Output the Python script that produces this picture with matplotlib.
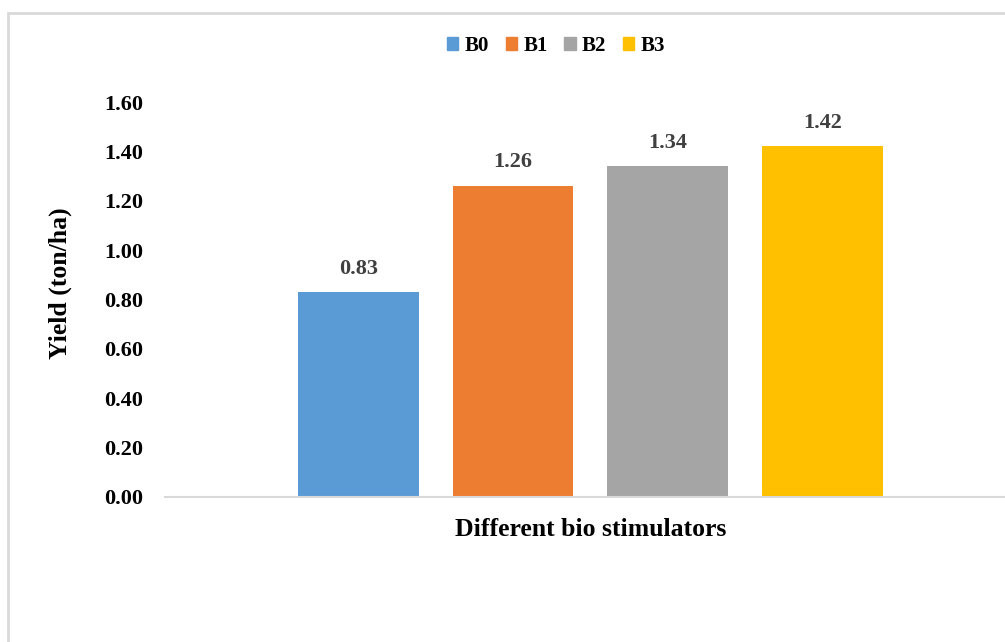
import matplotlib.pyplot as plt
from matplotlib.patches import Rectangle, Patch

# yield per bio stimulator treatment
treatments = ['B0', 'B1', 'B2', 'B3']
yields = [0.83, 1.26, 1.34, 1.42]
colors = ['#5B9BD5', '#ED7D31', '#A5A5A5', '#FFC000']
yticks = [0.0, 0.2, 0.4, 0.6, 0.8, 1.0, 1.2, 1.4, 1.6]

plt.rcParams['font.family'] = ['Liberation Serif', 'DejaVu Serif']
plt.rcParams['font.weight'] = 'bold'

W, H = 1005, 642
fig = plt.figure(figsize=(W / 100, H / 100), dpi=100)
ax = fig.add_axes([165 / W, 145 / H, 840 / W, 395 / H])

# chart frame
fig.patches.append(Rectangle((8 / W, -0.1), 1.2, (H - 13) / H + 0.1,
                             transform=fig.transFigure, fill=False,
                             edgecolor='#D9D9D9', linewidth=2))

xs = range(len(treatments))
ax.bar(xs, yields, width=0.78, color=colors)
for x, v in zip(xs, yields):
    ax.text(x, v + 0.055, f'{v:.2f}', ha='center', va='bottom',
            fontsize=16, fontweight='bold', color='#404040')

ax.set_xlim(-1.25, 4.18)
ax.set_ylim(0, 1.6)
ax.set_yticks(yticks)
ax.set_yticklabels([f'{t:.2f}' for t in yticks], fontsize=16, fontweight='bold')
ax.set_xticks([])
ax.tick_params(axis='y', length=0, pad=16)

for side in ['top', 'right', 'left']:
    ax.spines[side].set_visible(False)
ax.spines['bottom'].set_color('#D9D9D9')
ax.spines['bottom'].set_linewidth(1.5)

# axis titles
fig.text(60 / W, 1 - 283 / H, 'Yield (ton/ha)', rotation=90, ha='center', va='center',
         fontsize=18.5, fontweight='bold')
fig.text(591 / W, 1 - 530 / H, 'Different bio stimulators', ha='center', va='center',
         fontsize=18.5, fontweight='bold')

handles = [Patch(color=c, label=t) for c, t in zip(colors, treatments)]
fig.legend(handles=handles, loc='center', bbox_to_anchor=(556 / W, 1 - 46 / H),
           ncol=4, frameon=False, fontsize=15, handlelength=0.55, handleheight=0.55,
           handletextpad=0.3, columnspacing=0.8)

fig.savefig('out.png', dpi=100)
